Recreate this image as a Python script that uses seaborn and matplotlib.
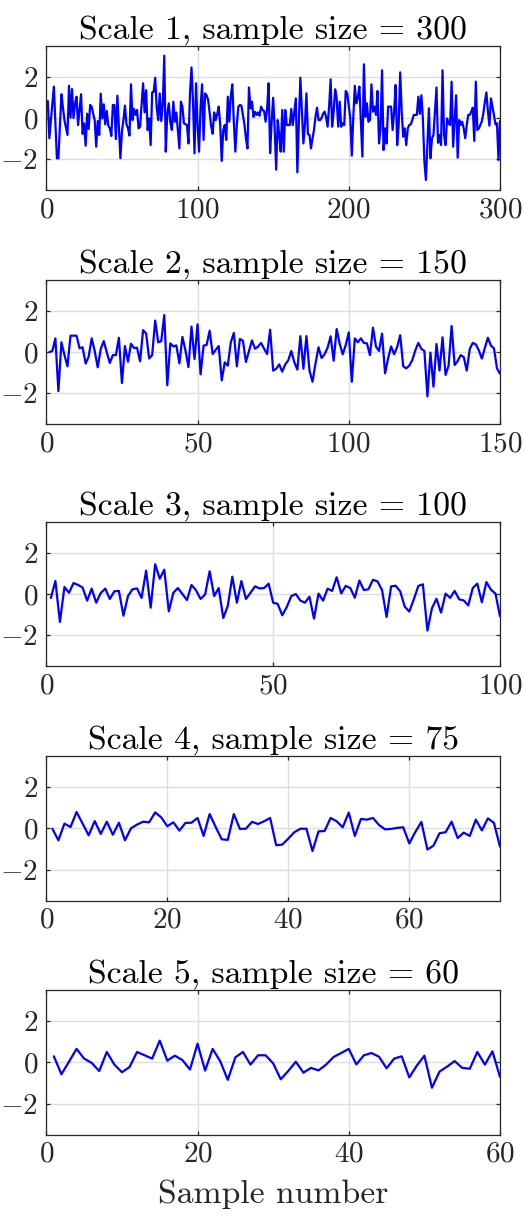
import matplotlib
matplotlib.use("Agg")
import matplotlib.pyplot as plt
import pandas as pd
import seaborn as sns

# Coarse-grained series at scales 1..5
scale1 = [
    0.82, -0.98, -0.15, 0.68, 1.52, -0.2, -1.95, -1.95, -0.4, 1.15,
    0.5, -0.1, -0.45, -0.82, 1.56, 0.02, 1.4, 0.0, 0.71, 1.03,
    -0.34, 0.4, 1.15, -0.77, -0.26, -1.34, 0.21, -0.53, 0.63, 0.55,
    0.2, -0.1, -1.39, -0.15, -0.82, 1.18, -0.02, 0.66, -0.31, 0.34,
    -0.37, -0.5, -0.87, 0.63, 0.63, -1.02, 1.08, -0.4, -1.95, -0.66,
    -0.1, 0.6, -0.3, -0.5, -0.85, 1.63, -0.1, 0.44, 0.15, 0.39,
    -0.5, -0.42, 0.6, 1.68, 0.27, 1.35, -0.58, -0.02, -1.31, 1.24,
    1.27, 1.95, 0.5, -0.1, 1.19, -0.15, 0.63, 3.02, -1.63, 0.2,
    0.71, -0.2, -0.58, 0.79, -0.18, 0.27, -0.6, -1.47, 0.79, 0.55,
    -0.26, -0.3, -0.34, -1.23, 1.19, 2.45, 0.79, -1.71, 1.68, -0.34,
    -1.63, 0.5, 1.63, -1.06, 1.19, 1.1, 0.87, 0.27, -0.4, -0.76,
    0.27, -0.1, 0.18, 0.55, -0.34, -2.08, -0.58, -0.34, -1.06, 1.03,
    -0.18, 1.08, 1.63, -0.18, -1.63, -0.31, 0.55, 0.63, 0.6, 0.15,
    -0.31, -0.98, -1.47, 1.48, 0.47, 0.79, 0.06, 0.3, 0.15, 0.27,
    0.11, 0.55, 0.39, 0.34, -0.18, 0.44, 1.68, -1.7, -0.2, 0.98,
    -0.5, -2.5, -0.1, -0.82, -1.63, 0.39, -1.63, 0.39, -0.34, -0.34,
    -0.34, 0.44, -0.34, 0.3, 0.95, -2.63, -0.2, 1.95, 0.3, -1.23,
    -0.34, 1.19, -0.79, -0.82, -1.47, -1.0, -0.58, 0.06, 0.5, -0.1,
    -0.1, 0.0, 0.2, 0.31, 0.06, -0.42, 0.55, 1.87, -0.42, 0.3,
    1.39, 0.95, -0.42, 0.79, -0.42, -0.26, -0.34, 1.31, 1.2, 0.6,
    -0.02, -1.82, 0.06, 1.56, 0.71, 1.0, 1.52, -0.23, -1.87, 2.6,
    0.06, 0.71, -0.18, -0.1, 1.63, 0.31, 0.55, 0.15, 1.31, -1.23,
    -0.5, 2.31, -1.55, -0.5, -1.23, 0.55, 0.55, 0.55, -0.58, 0.31,
    1.6, -1.31, -0.34, 2.21, 0.31, -0.9, -0.5, -1.31, -0.5, -0.34,
    -0.31, -0.1, 0.15, 0.15, 0.15, 1.03, 0.2, 1.1, -0.02, -2.1,
    -3.0, -1.31, 0.47, -1.95, -1.0, -0.82, 0.31, 1.48, -1.2, -0.82,
    -1.31, 2.31, -0.82, -1.31, -0.02, -0.26, -0.34, 1.76, -1.39, -0.1,
    1.1, -1.92, -0.1, -0.34, -0.18, -0.5, -0.98, -0.34, 0.15, 0.15,
    0.31, 0.5, -1.11, 1.76, -0.58, -0.5, -0.34, -0.15, 0.23, 0.79,
    1.24, 0.34, -0.37, 0.95, 0.55, 0.15, -0.31, -0.26, -2.03, -0.15,
]

scale2 = [
    0.0, 0.05, 0.66, -1.89, 0.47, -0.15, -0.69, 0.79, 0.79, 0.79,
    0.18, 0.23, -0.56, -0.23, 0.66, 0.05, -0.74, 0.15, 0.53, -0.02,
    -0.53, -0.15, -0.15, 0.69, -1.5, 0.29, -0.47, 0.4, 0.19, 0.21,
    -0.45, 1.06, 0.9, -0.31, -0.15, 1.52, 0.47, 0.53, 1.79, -1.61,
    0.42, 0.27, 0.32, -0.55, 0.73, 0.08, -0.73, 1.23, -0.34, 1.34,
    -1.08, 0.31, 0.34, 1.03, -0.1, 0.1, 0.29, -1.37, -0.5, -0.66,
    0.47, 0.92, -0.69, 0.63, 0.55, -0.48, 0.05, 0.56, 0.16, 0.26,
    0.44, 0.16, -0.1, 1.08, -0.9, -0.81, -0.6, -0.95, -0.6, -0.4,
    0.05, -0.5, -0.85, 0.77, -0.81, 0.77, -0.89, -1.44, -0.56, 0.23,
    -0.29, -0.11, 0.21, 0.76, -0.42, 1.11, 0.4, -0.11, 0.34, 0.95,
    -1.44, 0.66, 0.47, 0.66, 0.44, 0.42, -0.15, 1.18, 0.26, 0.05,
    0.89, -1.03, -0.31, 0.27, -0.11, 0.24, 0.81, -0.69, -0.79, -0.66,
    -0.39, 0.08, 0.44, 0.15, 0.05, -2.15, -0.03, -1.68, 0.39, -0.9,
    0.71, -1.11, -0.66, 1.26, -0.63, -0.44, -0.15, -0.24, -0.9, 0.15,
    0.44, 0.37, 0.08, -0.32, 0.21, 0.69, 0.31, 0.18, -0.79, -1.05,
]

scale3 = [
    -0.19, 0.63, -1.35, 0.34, 0.06, 0.53, 0.44, 0.31, -0.32, 0.26,
    -0.42, 0.05, 0.26, -0.24, 0.13, 0.15, -1.05, -0.1, 0.23, 0.27,
    -0.19, 1.13, -0.66, 1.44, 0.74, 1.18, -0.84, 0.06, 0.29, 0.0,
    -0.29, 0.44, 0.18, -0.24, -0.02, 1.1, -0.1, 0.29, -1.16, -0.58,
    0.84, -0.42, 0.63, -0.24, 0.06, 0.37, 0.27, 0.29, 0.5, -0.42,
    -0.48, -1.03, -0.63, -0.1, 0.0, -0.32, -0.42, -0.13, -1.19, 0.02,
    -0.32, 0.26, 0.15, 0.81, 0.03, 0.39, 0.29, -0.18, 0.65, 0.19,
    0.23, 0.69, 0.61, 0.19, -1.11, 0.37, 0.4, 0.13, -0.61, -0.85,
    -0.26, 0.39, 0.47, -1.77, -0.69, -0.23, -0.9, 0.02, -0.19, 0.15,
    -0.26, -0.31, -0.55, 0.29, 0.5, -0.4, 0.58, 0.21, 0.02, -1.08,
]

scale4 = [
    -0.02, -0.58, 0.23, 0.06, 0.79, 0.23, -0.34, 0.35, -0.27, 0.32,
    -0.31, 0.27, -0.58, 0.0, 0.18, 0.32, 0.29, 0.77, 0.53, 0.1,
    0.29, -0.11, 0.26, 0.27, 0.5, -0.37, 0.69, 0.06, -0.53, -0.56,
    0.69, -0.03, -0.02, 0.31, 0.21, 0.34, 0.5, -0.82, -0.79, -0.5,
    -0.19, -0.02, -0.02, -1.1, -0.15, -0.13, 0.5, 0.34, 0.05, 0.76,
    -0.37, 0.45, 0.42, 0.5, 0.16, -0.05, -0.03, 0.02, 0.05, -0.73,
    -0.18, 0.31, -1.03, -0.84, -0.24, -0.19, 0.32, -0.47, -0.21, -0.37,
    0.42, -0.1, 0.48, 0.26, -0.89,
]

scale5 = [
    0.29, -0.58, 0.03, 0.65, 0.18, -0.03, -0.42, 0.5, -0.11, -0.48,
    -0.23, 0.5, 0.34, 0.18, 1.05, 0.08, 0.32, 0.11, -0.35, 0.9,
    -0.4, 0.65, 0.05, -0.85, 0.24, 0.5, -0.11, 0.34, 0.34, -0.05,
    -0.82, -0.42, 0.03, -0.5, -0.27, -0.39, -0.11, 0.26, 0.45, 0.65,
    -0.1, 0.34, 0.45, 0.27, -0.29, 0.18, 0.29, -0.73, -0.16, 0.32,
    -1.23, -0.45, -0.21, 0.06, -0.27, -0.31, 0.5, -0.11, 0.53, -0.71,
]

series = [scale1, scale2, scale3, scale4, scale5]
x_ticks = [
    [0, 100, 200, 300],
    [0, 50, 100, 150],
    [0, 50, 100],
    [0, 20, 40, 60],
    [0, 20, 40, 60],
]
y_ticks = [-2, 0, 2]
y_limits = (-3.5, 3.5)
x_label = "Sample number"

sns.set_theme(style="whitegrid")
plt.rcParams.update({
    "font.family": ["cmr10"],
    "mathtext.fontset": "cm",
    "axes.formatter.use_mathtext": True,
    "axes.unicode_minus": True,
})

W, H = 524, 1219
fig = plt.figure(figsize=(W / 100, H / 100), dpi=100)
fig.patch.set_facecolor("white")

# panel geometry in pixels (left, top, width, height)
ax_left, ax_width, ax_height = 46.3, 453.7, 144.6
ax_tops = [45.7, 279.7, 521.7, 756.0, 990.0]

axis_color = "#262626"
title_size = 24.3
tick_size = 21

for k, (vals, top, xt) in enumerate(zip(series, ax_tops, x_ticks), start=1):
    ax = fig.add_axes([ax_left / W, 1 - (top + ax_height) / H,
                       ax_width / W, ax_height / H])
    df = pd.DataFrame({"sample": range(1, len(vals) + 1), "value": vals})
    sns.lineplot(data=df, x="sample", y="value", ax=ax, color="#0000ff",
                 linewidth=1.6, estimator=None)
    ax.set_xlim(0, len(vals))
    ax.set_ylim(*y_limits)
    ax.set_xticks(xt)
    ax.set_yticks(y_ticks)
    ax.set_xlabel("")
    ax.set_ylabel("")
    ax.set_facecolor("white")
    ax.grid(True, color="#dedede", linewidth=1.0)
    ax.set_axisbelow(True)
    for sp in ax.spines.values():
        sp.set_visible(True)
        sp.set_color(axis_color)
        sp.set_linewidth(0.9)
    ax.tick_params(direction="in", length=3, width=0.9, color=axis_color,
                   top=True, right=True, bottom=True, left=True,
                   labelsize=tick_size, labelcolor=axis_color)
    ax.tick_params(axis="x", pad=5)
    ax.tick_params(axis="y", pad=6)
    ax.set_title(f"Scale {k}, sample size = {len(vals)}", fontsize=title_size,
                 color="black", pad=5)
    if k == len(series):
        ax.set_xlabel(x_label, fontsize=title_size, color="#262626",
                      labelpad=8)

fig.savefig("out.png", dpi=100, facecolor="white")
